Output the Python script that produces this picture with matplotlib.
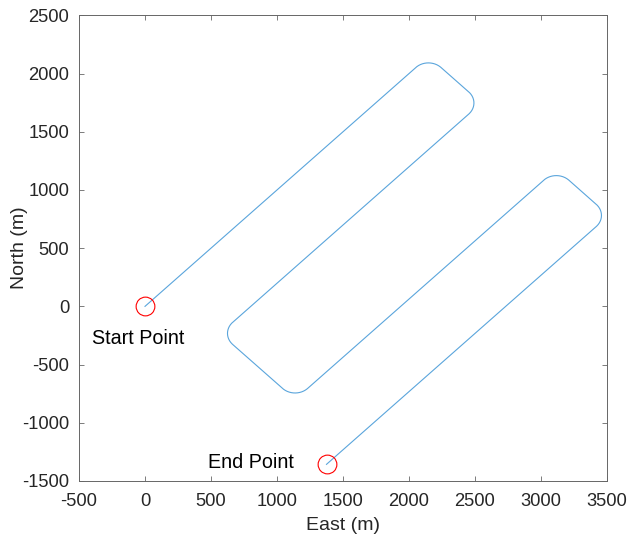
import numpy as np
import matplotlib
matplotlib.use("Agg")
import matplotlib.pyplot as plt

# Waypoints (sharp corners) of the survey path, metres
east_wp = [0, 2147, 2548, 569, 1137, 3116, 3514, 1375]
north_wp = [0, 2147, 1747, -232, -800, 1179, 781, -1357]
turn_radius = 135

start_label = "Start Point"
end_label = "End Point"
x_ticks = [-500, 0, 500, 1000, 1500, 2000, 2500, 3000, 3500]
y_ticks = [-1500, -1000, -500, 0, 500, 1000, 1500, 2000, 2500]


def rounded_path(xs, ys, r, n=40):
    pts = np.column_stack([xs, ys]).astype(float)
    out = [pts[0]]
    for i in range(1, len(pts) - 1):
        a, p, b = pts[i - 1], pts[i], pts[i + 1]
        d1 = (a - p) / np.linalg.norm(a - p)
        d2 = (b - p) / np.linalg.norm(b - p)
        theta = np.arccos(np.clip(np.dot(d1, d2), -1, 1))
        t = r / np.tan(theta / 2)
        t1 = p + d1 * t
        t2 = p + d2 * t
        bis = (d1 + d2) / np.linalg.norm(d1 + d2)
        c = p + bis * r / np.sin(theta / 2)
        a1 = np.arctan2(*(t1 - c)[::-1])
        a2 = np.arctan2(*(t2 - c)[::-1])
        da = (a2 - a1 + np.pi) % (2 * np.pi) - np.pi
        ang = a1 + np.linspace(0, da, n)
        out.extend(np.column_stack([c[0] + r * np.cos(ang), c[1] + r * np.sin(ang)]))
    out.append(pts[-1])
    out = np.array(out)
    return out[:, 0], out[:, 1]


px, py = rounded_path(east_wp, north_wp, turn_radius)

plt.rcParams['font.family'] = ['Liberation Sans', 'DejaVu Sans']
plt.rcParams['axes.unicode_minus'] = False
fig = plt.figure(figsize=(6.27, 5.37), dpi=100)
ax = fig.add_axes([0.126, 0.1043, 0.8421, 0.8672])

ax.plot(px, py, color='#5AA5DC', lw=0.8)
ax.plot([east_wp[0]], [north_wp[0]], 'o', ms=13.5, mfc='none', mec='red', mew=0.8)
ax.plot([east_wp[-1]], [north_wp[-1]], 'o', ms=13.5, mfc='none', mec='red', mew=0.8)
ax.text(-400, -275, start_label, fontsize=14.2, va='center', ha='left', color='black')
ax.text(480, -1340, end_label, fontsize=14.2, va='center', ha='left', color='black')

ax.set_xlim(-500, 3500)
ax.set_ylim(-1500, 2500)
ax.set_xticks(x_ticks)
ax.set_yticks(y_ticks)
ax.set_xlabel('East (m)', fontsize=14, color='#262626', va='center')
ax.set_ylabel('North (m)', fontsize=14, color='#262626', va='center', ha='center')
ax.xaxis.set_label_coords(0.5, -0.096)
ax.yaxis.set_label_coords(-0.113, 0.5)
ax.tick_params(direction='in', length=3.6, width=0.6, top=True, right=True,
               labelsize=13.2, colors='#262626', color='#666666')
ax.tick_params(axis='x', pad=8.5)
ax.tick_params(axis='y', pad=7)
for s in ax.spines.values():
    s.set_color('#666666')
    s.set_linewidth(0.7)

fig.savefig('out.png', dpi=100)
